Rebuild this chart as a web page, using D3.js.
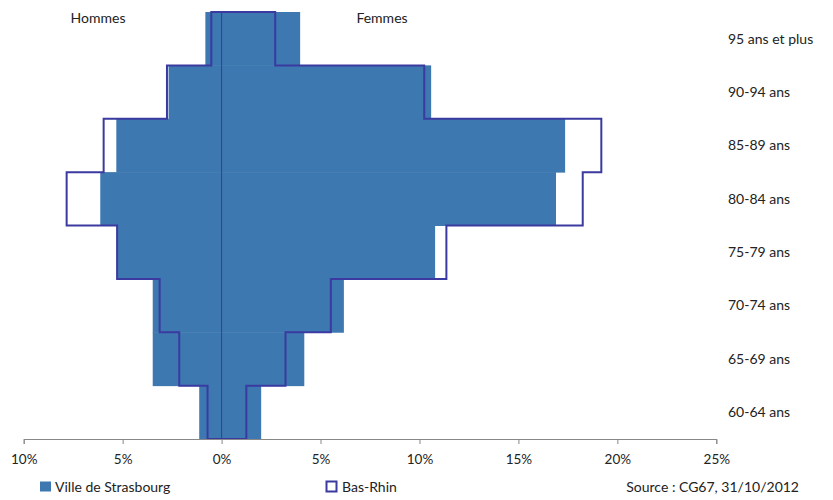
<!DOCTYPE html>
<html>
<head>
<meta charset="utf-8">
<script src="https://cdn.jsdelivr.net/npm/d3@7"></script>
<style>
  body { margin: 0; background: #fff; }
  text { font-family: Lato, "Open Sans", sans-serif; fill: #222; }
</style>
</head>
<body>
<svg id="chart" width="833" height="500"></svg>
<script>
// age groups, top to bottom
var ages = ['95 ans et plus', '90-94 ans', '85-89 ans', '80-84 ans', '75-79 ans', '70-74 ans', '65-69 ans', '60-64 ans'];

// Ville de Strasbourg (filled bars), % of population
var stras_hommes = [0.82, 2.68, 5.32, 6.13, 5.25, 3.48, 3.48, 1.13];
var stras_femmes = [3.97, 10.59, 17.36, 16.9, 10.79, 6.18, 4.18, 2.0];

// Bas-Rhin (outline)
var bas_hommes = [0.52, 2.76, 5.96, 7.83, 5.28, 3.13, 2.14, 0.71];
var bas_femmes = [2.71, 10.24, 19.19, 18.25, 11.36, 5.52, 3.23, 1.25];

var ticks = [-10, -5, 0, 5, 10, 15, 20, 25];

var svg = d3.select('#chart');
var fill_col = '#3e78b0';
var line_col = '#3a3aa0';
var fsize = '14px';

var xScale = d3.scaleLinear().domain([-10, 25]).range([23.7, 716.3]);
var yScale = d3.scaleBand().domain(ages).range([12, 439]).padding(0);

// Strasbourg bars, men on the left (negative), women on the right
var rows = ages.map(function(a, i) {
	return {age: a, h: stras_hommes[i], f: stras_femmes[i], bh: bas_hommes[i], bf: bas_femmes[i]};
});

svg.selectAll('rect.bar')
	.data(rows)
	.enter()
	.append('rect')
	.attr('class', 'bar')
	.attr('x', function(d) { return xScale(-d.h); })
	.attr('width', function(d) { return xScale(d.f) - xScale(-d.h); })
	.attr('y', function(d) { return yScale(d.age); })
	.attr('height', yScale.bandwidth() + 0.5)
	.attr('fill', fill_col);

// Bas-Rhin outline as a closed step path
var pts = [];
rows.forEach(function(d) {
	pts.push([xScale(d.bf), yScale(d.age)]);
	pts.push([xScale(d.bf), yScale(d.age) + yScale.bandwidth()]);
});
for (var i = rows.length - 1; i >= 0; i--) {
	var d = rows[i];
	pts.push([xScale(-d.bh), yScale(d.age) + yScale.bandwidth()]);
	pts.push([xScale(-d.bh), yScale(d.age)]);
}
svg.append('path')
	.attr('d', d3.line()(pts) + 'Z')
	.attr('fill', 'none')
	.attr('stroke', line_col)
	.attr('stroke-width', 2);

// centre line
svg.append('line')
	.attr('x1', xScale(0)).attr('x2', xScale(0))
	.attr('y1', 12).attr('y2', 439)
	.attr('stroke', line_col)
	.attr('stroke-width', 1);

// x axis
var xAxis = d3.axisBottom(xScale)
	.tickValues(ticks)
	.tickSize(5)
	.tickFormat(function(v) { return Math.abs(v) + '%'; });
var gx = svg.append('g')
	.attr('transform', 'translate(0,439)')
	.call(xAxis);
gx.select('.domain').attr('stroke', '#888');
gx.selectAll('.tick line').attr('stroke', '#888');
gx.selectAll('.tick text')
	.attr('dy', 0).attr('y', 25)
	.style('font-family', 'Lato, "Open Sans", sans-serif')
	.style('font-size', '13.5px')
	.attr('fill', '#222');

// age labels on the right
svg.selectAll('text.age')
	.data(ages)
	.enter()
	.append('text')
	.attr('class', 'age')
	.attr('x', 728)
	.attr('y', function(a) { return yScale(a) + yScale.bandwidth() / 2; })
	.attr('dy', '0.35em')
	.style('font-size', fsize)
	.text(function(a) { return a; });

// side titles
svg.append('text').attr('x', 98).attr('y', 18).attr('dy', '0.35em')
	.attr('text-anchor', 'middle').style('font-size', fsize).text('Hommes');
svg.append('text').attr('x', 382).attr('y', 18).attr('dy', '0.35em')
	.attr('text-anchor', 'middle').style('font-size', fsize).text('Femmes');

// legend
svg.append('rect').attr('x', 40).attr('y', 481.5).attr('width', 11).attr('height', 10).attr('fill', fill_col);
svg.append('text').attr('x', 55).attr('y', 487).attr('dy', '0.35em').style('font-size', fsize).text('Ville de Strasbourg');
svg.append('rect').attr('x', 326.5).attr('y', 481.5).attr('width', 10).attr('height', 10)
	.attr('fill', 'none').attr('stroke', line_col).attr('stroke-width', 2);
svg.append('text').attr('x', 342).attr('y', 487).attr('dy', '0.35em').style('font-size', fsize).text('Bas-Rhin');

svg.append('text').attr('x', 799).attr('y', 487).attr('dy', '0.35em')
	.attr('text-anchor', 'end').style('font-size', fsize).text('Source : CG67, 31/10/2012');
</script>
</body>
</html>
